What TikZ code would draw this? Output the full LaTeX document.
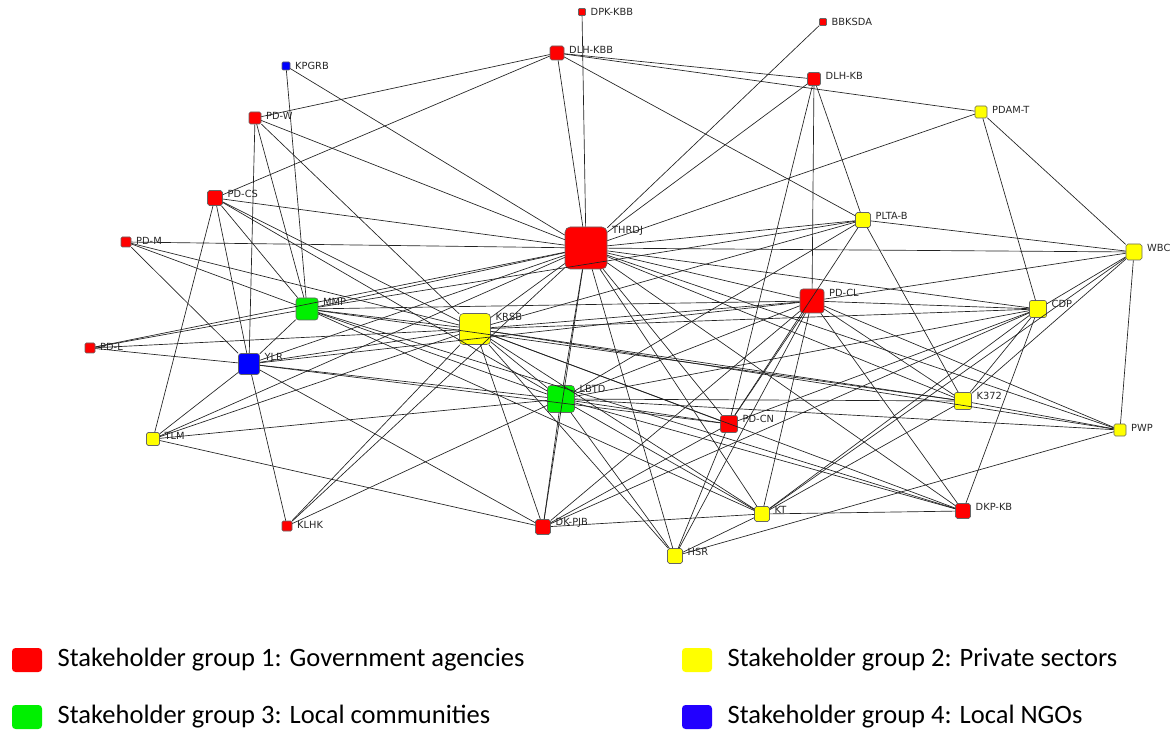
\documentclass[tikz,border=0pt]{standalone}
\usepackage{fontspec}
\setmainfont{Carlito}
\newfontfamily\lblfont{DejaVu Sans}
\usepackage{tikz}
\usetikzlibrary{positioning}
\definecolor{govred}{HTML}{FF0000}
\definecolor{privyellow}{HTML}{FFFF00}
\definecolor{commgreen}{HTML}{00F000}
\definecolor{ngoblue}{HTML}{0000FF}
\definecolor{legblue}{HTML}{2200FF}
\definecolor{edge}{HTML}{222222}

\begin{document}
\begin{tikzpicture}[
  x=0.02cm, y=-0.02cm,
  box/.style={draw=black!60, line width=0.35pt, inner sep=0pt, rounded corners=#1*0.07pt, minimum size=#1*0.02cm},
  gov/.style={box=#1, fill=govred},
  priv/.style={box=#1, fill=privyellow},
  comm/.style={box=#1, fill=commgreen},
  ngo/.style={box=#1, fill=ngoblue},
  lbl/.style={anchor=west, inner sep=0pt, xshift=2.6pt, yshift=-2.2pt, font=\lblfont\fontsize{5.6}{6}\selectfont, text=black!85},
  link/.style={draw=edge, line width=0.38pt},
  legbox/.style={minimum width=30*0.02cm, minimum height=24*0.02cm, rounded corners=2pt, inner sep=0pt},
  legtext/.style={font=\fontsize{15.1}{17}\selectfont, inner sep=0pt, anchor=west}
]
\useasboundingbox (0,0) rectangle (1174,733);

% stakeholders
\node[gov=7,   label={[lbl]north east:DPK-KBB}] (dpkkbb) at (582,12) {};
\node[gov=7,   label={[lbl]north east:BBKSDA}]  (bbksda) at (823,22) {};
\node[ngo=8,   label={[lbl]north east:KPGRB}]   (kpgrb)  at (286,66) {};
\node[gov=14,  label={[lbl]north east:DLH-KBB}] (dlhkbb) at (557,53) {};
\node[gov=13,  label={[lbl]north east:DLH-KB}]  (dlhkb)  at (814,79) {};
\node[gov=12,  label={[lbl]north east:PD-W}]    (pdw)    at (255,118) {};
\node[priv=12, label={[lbl]north east:PDAM-T}]  (pdamt)  at (981,112) {};
\node[gov=15,  label={[lbl]north east:PD-CS}]   (pdcs)   at (215,198) {};
\node[priv=15, label={[lbl]north east:PLTA-B}]  (pltab)  at (863,220) {};
\node[gov=10,  label={[lbl]north east:PD-M}]    (pdm)    at (126,242) {};
\node[gov=42,  label={[lbl]north east:THRDJ}]   (thrdj)  at (586,248) {};
\node[priv=16, label={[lbl]north east:WBC}]     (wbc)    at (1134,252) {};
\node[comm=22, label={[lbl]north east:MMP}]     (mmp)    at (307,309) {};
\node[gov=24,  label={[lbl]north east:PD-CL}]   (pdcl)   at (812,301) {};
\node[priv=17, label={[lbl]north east:CDP}]     (cdp)    at (1038,309) {};
\node[priv=31, label={[lbl]north east:KRSB}]    (krsb)   at (475,329) {};
\node[gov=10,  label={[lbl]north east:PD-L}]    (pdl)    at (90,348) {};
\node[ngo=21,  label={[lbl]north east:YLR}]     (ylr)    at (249,364) {};
\node[comm=27, label={[lbl]north east:LBTD}]    (lbtd)   at (561,399) {};
\node[gov=17,  label={[lbl]north east:PD-CN}]   (pdcn)   at (729,424) {};
\node[priv=17, label={[lbl]north east:K372}]    (k372)   at (963,401) {};
\node[priv=13, label={[lbl]north east:TLM}]     (tlm)    at (153,439) {};
\node[priv=12, label={[lbl]north east:PWP}]     (pwp)    at (1120,430) {};
\node[gov=10,  label={[lbl]north east:KLHK}]    (klhk)   at (287,526) {};
\node[gov=15,  label={[lbl]north east:DK-PJB}]  (dkpjb)  at (543,527) {};
\node[priv=15, label={[lbl]north east:KT}]      (kt)     at (762,514) {};
\node[gov=15,  label={[lbl]north east:DKP-KB}]  (dkpkb)  at (963,511) {};
\node[priv=15, label={[lbl]north east:HSR}]     (hsr)    at (675,556) {};

% ties
\foreach \a/\bs in {
  thrdj/{dpkkbb,dlhkbb,kpgrb,pdw,pdcs,pdm,pdl,mmp,ylr,tlm,klhk,krsb,lbtd,dkpjb,hsr,kt,pdcn,dkpkb,k372,cdp,pdcl,wbc,pltab,pdamt,dlhkb,bbksda,pwp},
  dlhkbb/{pdw,pdcs,dlhkb,pdamt,pltab},
  dlhkb/{pdcl,pdcn,pltab},
  pdamt/{cdp,wbc},
  pltab/{wbc,k372,krsb,lbtd,pdcn,mmp},
  wbc/{pwp,pdcl,cdp,k372,kt},
  pdcl/{cdp,k372,pwp,dkpkb,kt,pdcn,dkpjb,hsr,mmp,krsb,lbtd,ylr},
  cdp/{krsb,k372,kt,dkpkb,pdcn,dkpjb,lbtd},
  k372/{krsb,lbtd,mmp,kt,pwp},
  pwp/{krsb,hsr,lbtd},
  kt/{lbtd,krsb,mmp,dkpkb,dkpjb,hsr},
  hsr/{krsb,lbtd,pdcn},
  dkpkb/{lbtd,krsb,mmp},
  pdcn/{lbtd,ylr,krsb,dkpjb},
  lbtd/{krsb,mmp,ylr,tlm,klhk,dkpjb,pdcs},
  krsb/{pdw,pdm,pdl,mmp,ylr,tlm,klhk,dkpjb,pdcs},
  mmp/{pdw,pdcs,kpgrb,pdm,pdl,ylr},
  ylr/{pdm,pdw,pdcs,pdl,tlm,klhk,dkpjb},
  tlm/{pdcs,dkpjb}}
  \foreach \b in \bs \draw[link] (\a) -- (\b);

% legend
\node[legbox, fill=govred] (leg1) at (27,660) {};
\node[legtext, right=15*0.02cm of leg1] (leg1t) {Stakeholder group 1: Government agencies};
\node[legbox, fill=privyellow] (leg2) at (697,660) {};
\node[legtext, right=15*0.02cm of leg2] (leg2t) {Stakeholder group 2: Private sectors};
\node[legbox, fill=commgreen] (leg3) at (27,717) {};
\node[legtext, right=15*0.02cm of leg3] (leg3t) {Stakeholder group 3: Local communities};
\node[legbox, fill=legblue] (leg4) at (697,717) {};
\node[legtext, right=15*0.02cm of leg4] (leg4t) {Stakeholder group 4: Local NGOs};
\end{tikzpicture}
\end{document}
